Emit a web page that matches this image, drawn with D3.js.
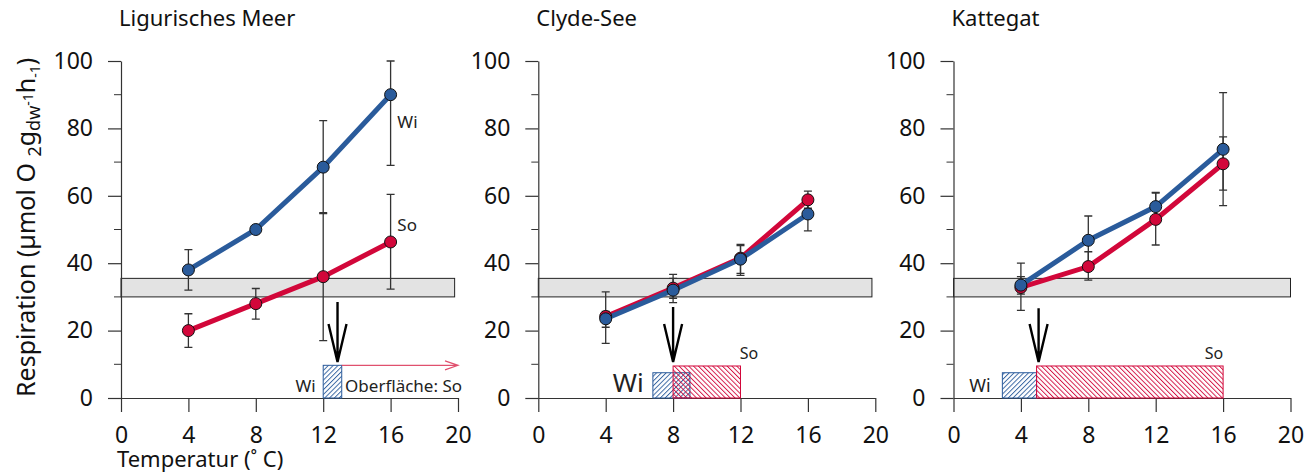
<!DOCTYPE html>
<html>
<head>
<meta charset="utf-8">
<script src="https://cdn.jsdelivr.net/npm/d3@7"></script>
<style>
  body { margin: 0; background: #fff; }
  svg { display: block; font-family: "Noto Sans", sans-serif; }
</style>
</head>
<body>
<div id="chart"></div>
<script>
// Data
const regions = ["Ligurisches Meer", "Clyde-See", "Kattegat"];
const temps = [4, 8, 12, 16];
const xTicks = [0, 4, 8, 12, 16, 20];
const yTicks = [0, 20, 40, 60, 80, 100];
const yMinor = [10, 30, 50, 70, 90];

// winter (Wi) and summer (So) means and error bar ends, per region
const wiMean = [[38, 50, 68.5, 90], [23.5, 32, 41.2, 54.6], [33.5, 46.8, 56.8, 73.8]];
const wiLow  = [[32, 49, 54.7, 69], [16.2, 28.3, 36.4, 49.6], [26, 39, 52.5, 57.1]];
const wiHigh = [[44, 51, 82.3, 100], [31.5, 36.7, 45.6, 59.6], [40, 54, 61, 90.6]];
const soMean = [[20, 28, 36, 46.3], [24.2, 32.6, 41.5, 58.8], [32.8, 39, 53, 69.5]];
const soLow  = [[15, 23.4, 17, 32.3], [21, 29.6, 37, 56.3], [30.8, 35, 45.4, 61.7]];
const soHigh = [[25, 32.5, 55, 60.4], [25.7, 35.5, 45.2, 61.4], [36, 43.4, 60.8, 77.5]];

// grey band (respiration range)
const bandRange = [30, 35.5];
const bandEnd = [19.8, 19.8, 20];

// temperature ranges at the surface (x from, x to, height)
const wiRange = [[12, 13.1, 9.7], [6.8, 9, 7.5], [2.9, 4.93, 7.5]];
const soRange = [null, [8, 12, 9.5], [4.93, 16, 9.5]];
const arrowX = [12.85, 8, 5.05];
const arrowTop = [28.5, 27, 26.6];

const width = 1316, height = 476;
const panelX = [121, 538.3, 953.5];
const plotW = 337;
const blue = "#2a5b9b", red = "#d2073a";

const svg = d3.select("#chart").append("svg")
  .attr("width", width).attr("height", height);

const defs = svg.append("defs");
function hatch(id, color, angle) {
  const p = defs.append("pattern")
    .attr("id", id).attr("patternUnits", "userSpaceOnUse")
    .attr("width", 3.4).attr("height", 3.4)
    .attr("patternTransform", `rotate(${angle})`);
  p.append("line").attr("x1", 0.5).attr("y1", 0).attr("x2", 0.5).attr("y2", 3.4)
    .attr("stroke", color).attr("stroke-width", 0.9);
}
hatch("hBlue", blue, 45);
hatch("hRed", red, -45);

const x = d3.scaleLinear().domain([0, 20]).range([0, plotW]);
const y = d3.scaleLinear().domain([0, 100]).range([398, 61]);

const line = d3.line().x(d => x(d[0])).y(d => y(d[1]));

regions.forEach((name, i) => {
  const g = svg.append("g").attr("transform", `translate(${panelX[i]},0)`);

  g.append("text").attr("x", -2).attr("y", 26)
    .style("font-size", "22px").attr("fill", "#111").text(name);

  // grey band
  g.append("rect")
    .attr("x", x(0)).attr("width", x(bandEnd[i]) - x(0))
    .attr("y", y(bandRange[1])).attr("height", y(bandRange[0]) - y(bandRange[1]))
    .attr("fill", "#e3e3e3").attr("stroke", "#222").attr("stroke-width", 1);

  // axes
  const ya = g.append("g").call(d3.axisLeft(y).tickValues(yTicks).tickSize(13).tickSizeOuter(0).tickPadding(15));
  g.append("g").selectAll("line").data(yMinor).join("line")
    .attr("x1", -7).attr("x2", 0).attr("y1", d => y(d)).attr("y2", d => y(d))
    .attr("stroke", "#333");
  const xa = g.append("g").attr("transform", `translate(0,${y(0)})`)
    .call(d3.axisBottom(x).tickValues(xTicks).tickSize(14).tickSizeOuter(0).tickPadding(15));
  [ya, xa].forEach(a => {
    a.selectAll("path,line").attr("stroke", "#333").attr("stroke-width", 1.2);
    a.selectAll("text").style("font-size", "23px").attr("fill", "#111").style("font-family", "'Noto Sans', sans-serif");
  });

  // surface temperature ranges
  const wr = wiRange[i];
  g.append("rect").attr("x", x(wr[0])).attr("width", x(wr[1]) - x(wr[0]))
    .attr("y", y(wr[2])).attr("height", y(0) - y(wr[2]))
    .attr("fill", "url(#hBlue)").attr("stroke", blue).attr("stroke-width", 1);
  const sr = soRange[i];
  if (sr) {
    g.append("rect").attr("x", x(sr[0])).attr("width", x(sr[1]) - x(sr[0]))
      .attr("y", y(sr[2])).attr("height", y(0) - y(sr[2]))
      .attr("fill", "url(#hRed)").attr("stroke", red).attr("stroke-width", 1);
  } else {
    // open ended summer range
    const yy = y(wr[2]);
    g.append("path")
      .attr("d", `M${x(wr[1])},${yy}H${x(20)}M${x(20) - 13},${yy - 4.5}L${x(20)},${yy}L${x(20) - 13},${yy + 4.5}`)
      .attr("fill", "none").attr("stroke", "#e0506e").attr("stroke-width", 1.2);
  }

  // arrow
  const ax = x(arrowX[i]), at = y(arrowTop[i]), tip = y(10.7);
  g.append("path")
    .attr("d", `M${ax},${at}V${tip}M${ax - 9},${tip - 38}L${ax},${tip}L${ax + 9},${tip - 38}`)
    .attr("fill", "none").attr("stroke", "#000").attr("stroke-width", 2.4);

  // series
  const series = [
    { mean: soMean[i], lo: soLow[i], hi: soHigh[i], color: red },
    { mean: wiMean[i], lo: wiLow[i], hi: wiHigh[i], color: blue }
  ];
  series.forEach(s => {
    g.append("path").datum(temps.map((t, k) => [t, s.mean[k]]))
      .attr("d", line).attr("fill", "none")
      .attr("stroke", s.color).attr("stroke-width", 5);
  });
  series.forEach(s => {
    const eb = g.append("g").attr("stroke", "#333").attr("stroke-width", 1.3);
    temps.forEach((t, k) => {
      eb.append("path").attr("d",
        `M${x(t)},${y(s.lo[k])}V${y(s.hi[k])}M${x(t) - 4},${y(s.lo[k])}h8M${x(t) - 4},${y(s.hi[k])}h8`);
    });
  });
  series.forEach(s => {
    g.selectAll(null).data(temps.map((t, k) => [t, s.mean[k]])).join("circle")
      .attr("cx", d => x(d[0])).attr("cy", d => y(d[1])).attr("r", 6)
      .attr("fill", s.color).attr("stroke", "#111").attr("stroke-width", 1);
  });
});

// panel specific labels
const lab = (i, tx, ty, txt, size, anchor) =>
  svg.append("text").attr("x", panelX[i] + x(tx)).attr("y", y(ty))
    .attr("text-anchor", anchor || "start")
    .style("font-size", size + "px").attr("fill", "#222").text(txt);
lab(0, 16.4, 80, "Wi", 17);
lab(0, 16.4, 49.6, "So", 17);
lab(0, 11.55, 1.8, "Wi", 17, "end");
lab(0, 13.3, 1.8, "Oberfläche: So", 17);
lab(1, 6.25, 1.8, "Wi", 26, "end");
lab(1, 11.95, 11.6, "So", 16);
lab(2, 2.2, 1.8, "Wi", 18, "end");
lab(2, 16, 11.6, "So", 16, "end");

// axis titles
svg.append("text").attr("x", 117).attr("y", 467)
  .style("font-size", "22px").attr("fill", "#111").text("Temperatur (˚ C)");

const yl = svg.append("text").attr("transform", "translate(35,397) rotate(-90)")
  .style("font-size", "25px").attr("fill", "#111");
yl.append("tspan").text("Respiration (µmol O ");
yl.append("tspan").attr("dy", 6).style("font-size", "18px").text("2");
yl.append("tspan").attr("dy", -6).text("g");
yl.append("tspan").attr("dy", 5).style("font-size", "18px").text("dw");
yl.append("tspan").attr("dy", -7).style("font-size", "14px").text("-1");
yl.append("tspan").attr("dy", 2).text("h");
yl.append("tspan").attr("dy", 5).style("font-size", "14px").text("-1");
yl.append("tspan").attr("dy", -5).text(")");
</script>
</body>
</html>
